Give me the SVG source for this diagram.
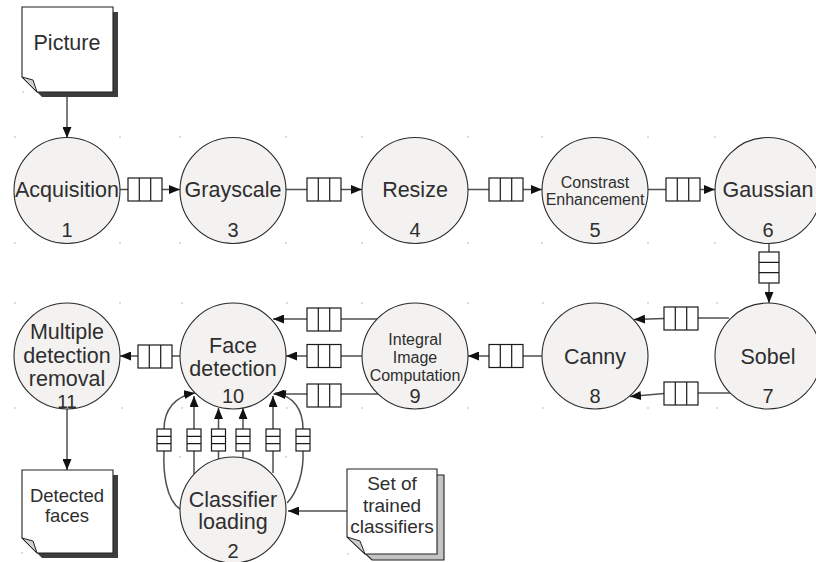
<svg xmlns="http://www.w3.org/2000/svg" width="816" height="562" viewBox="0 0 816 562">
<defs>
<style>
.n{fill:#f3f2f1;stroke:#2a2a2a;stroke-width:1.1}
.t{font-family:"Liberation Sans",Arial,sans-serif;fill:#2e2e2e;text-anchor:middle}
.l{font-size:21.5px}
.num{font-size:20px}
.c{fill:none;stroke:#505050;stroke-width:1.5}
.q{fill:#fff;stroke:#1a1a1a;stroke-width:1.2}
.qd{stroke:#1a1a1a;stroke-width:1.2}
.doc{fill:#fff;stroke:#222;stroke-width:1.1}
.sh{fill:#3d3d3d}
.fold{fill:#cfcfcf;stroke:#222;stroke-width:1}
.d{fill:#a0a0a0}
</style>
<marker id="a" markerUnits="userSpaceOnUse" markerWidth="12" markerHeight="9" refX="11" refY="4.5" orient="auto">
<path d="M0,0 L11,4.5 L0,9 z" fill="#111"/>
</marker>
<g id="qh"><rect class="q" x="0" y="0" width="34" height="23"/><path class="qd" d="M11.3,0 V23 M22.7,0 V23"/></g>
<g id="qv"><rect class="q" x="0" y="0" width="20" height="31"/><path class="qd" d="M0,10.3 H20 M0,20.7 H20"/></g>
<g id="qs"><rect class="q" x="0" y="0" width="14" height="22"/><path class="qd" d="M0,7.3 H14 M0,14.7 H14"/></g>
</defs>
<rect width="816" height="562" fill="#fff"/>

<g id="dots">
<circle class="d" cx="15" cy="137" r="0.7"/><circle class="d" cx="120" cy="137" r="0.7"/><circle class="d" cx="15" cy="243" r="0.7"/><circle class="d" cx="120" cy="243" r="0.7"/>
<circle class="d" cx="180" cy="137" r="0.7"/><circle class="d" cx="286" cy="137" r="0.7"/><circle class="d" cx="180" cy="243" r="0.7"/><circle class="d" cx="286" cy="243" r="0.7"/>
<circle class="d" cx="362" cy="137" r="0.7"/><circle class="d" cx="468" cy="137" r="0.7"/><circle class="d" cx="362" cy="243" r="0.7"/><circle class="d" cx="468" cy="243" r="0.7"/>
<circle class="d" cx="542" cy="137" r="0.7"/><circle class="d" cx="648" cy="137" r="0.7"/><circle class="d" cx="542" cy="243" r="0.7"/><circle class="d" cx="648" cy="243" r="0.7"/>
<circle class="d" cx="715" cy="137" r="0.7"/><circle class="d" cx="715" cy="243" r="0.7"/>
<circle class="d" cx="15" cy="303" r="0.7"/><circle class="d" cx="120" cy="303" r="0.7"/><circle class="d" cx="15" cy="408" r="0.7"/><circle class="d" cx="122" cy="408" r="0.7"/>
<circle class="d" cx="182" cy="303" r="0.7"/><circle class="d" cx="287" cy="303" r="0.7"/><circle class="d" cx="182" cy="408" r="0.7"/><circle class="d" cx="287" cy="408" r="0.7"/>
<circle class="d" cx="362" cy="303" r="0.7"/><circle class="d" cx="468" cy="303" r="0.7"/><circle class="d" cx="362" cy="408" r="0.7"/><circle class="d" cx="468" cy="408" r="0.7"/>
<circle class="d" cx="543" cy="303" r="0.7"/><circle class="d" cx="648" cy="303" r="0.7"/><circle class="d" cx="543" cy="408" r="0.7"/><circle class="d" cx="648" cy="408" r="0.7"/>
<circle class="d" cx="717" cy="303" r="0.7"/><circle class="d" cx="717" cy="408" r="0.7"/>
<circle class="d" cx="180" cy="457" r="0.7"/><circle class="d" cx="286" cy="457" r="0.7"/>
<circle class="d" cx="23" cy="92" r="0.7"/><circle class="d" cx="22" cy="553" r="0.7"/><circle class="d" cx="348" cy="554" r="0.7"/>
</g>

<g id="connectors">
<path class="c" d="M67,92 V138" marker-end="url(#a)"/>
<path class="c" d="M120,189.5 H128 M162,189.5 H180" marker-end="url(#a)"/>
<use href="#qh" x="128" y="178"/>
<path class="c" d="M286,189.5 H307 M341,189.5 H362" marker-end="url(#a)"/>
<use href="#qh" x="307" y="178"/>
<path class="c" d="M468,189.5 H489 M522,189.5 H542" marker-end="url(#a)"/>
<use href="#qh" x="489" y="178"/>
<path class="c" d="M648,189.5 H666 M699,189.5 H715" marker-end="url(#a)"/>
<use href="#qh" x="666" y="178"/>
<path class="c" d="M769,243.5 V252 M769,283 V303" marker-end="url(#a)"/>
<use href="#qv" x="759" y="252"/>
<path class="c" d="M729,318 H698 M664,318.5 L634,319.5" marker-end="url(#a)"/>
<use href="#qh" x="664" y="307"/>
<path class="c" d="M730,393 H698 M664,393.5 L630,396.5" marker-end="url(#a)"/>
<use href="#qh" x="664" y="382"/>
<path class="c" d="M542,356 H522 M489,356 H468" marker-end="url(#a)"/>
<use href="#qh" x="489" y="344.5"/>
<path class="c" d="M377,319 H341 M307,319 H273" marker-end="url(#a)"/>
<use href="#qh" x="307" y="308"/>
<path class="c" d="M362,356 H341 M307,356 H286" marker-end="url(#a)"/>
<use href="#qh" x="307" y="344.5"/>
<path class="c" d="M378,394 H341 M307,394 H273.5" marker-end="url(#a)"/>
<use href="#qh" x="307" y="384"/>
<path class="c" d="M180,356 H172 M138,356 H120" marker-end="url(#a)"/>
<use href="#qh" x="138" y="345"/>
<path class="c" d="M67,408 V470" marker-end="url(#a)"/>
<path class="c" d="M347,511 H288" marker-end="url(#a)"/>
<path class="c" d="M180,509 C166,500 163,472 164,451 M164,429 C164,410 175,396 195,393" marker-end="url(#a)"/>
<use href="#qs" x="157" y="429"/>
<path class="c" d="M194,474 V451 M194,429 V396" marker-end="url(#a)"/>
<use href="#qs" x="187" y="429"/>
<path class="c" d="M218.5,459 V451 M218.5,429 V408" marker-end="url(#a)"/>
<use href="#qs" x="211.5" y="429"/>
<path class="c" d="M243,458 V451 M243,429 V408" marker-end="url(#a)"/>
<use href="#qs" x="236" y="429"/>
<path class="c" d="M273,473 V451 M273,429 V396" marker-end="url(#a)"/>
<use href="#qs" x="266" y="429"/>
<path class="c" d="M287,503 C298,492 304,470 303,451 M303,429 C303,410 294,396 275,393" marker-end="url(#a)"/>
<use href="#qs" x="296" y="429"/>
</g>

<g id="picture">
<path class="sh" d="M27,12 H118 V97 H42 L27,82 Z"/>
<path class="doc" d="M22,7 H113 V92 H37 L22,77 Z"/>
<path class="fold" d="M22,77 L33,80 L37,92 Z"/>
<text class="t l" x="67" y="50">Picture</text>
</g>

<g id="acquisition">
<circle class="n" cx="67" cy="190.5" r="53"/>
<text class="t l" x="67" y="197">Acquisition</text>
<text class="t num" x="67" y="237">1</text>
</g>
<g id="grayscale">
<circle class="n" cx="233" cy="190.5" r="53"/>
<text class="t l" x="233" y="197">Grayscale</text>
<text class="t num" x="233" y="237">3</text>
</g>
<g id="resize">
<circle class="n" cx="415" cy="190.5" r="53"/>
<text class="t l" x="415" y="197">Resize</text>
<text class="t num" x="415" y="237">4</text>
</g>
<g id="contrast">
<circle class="n" cx="595" cy="190.5" r="53"/>
<text class="t" font-size="16" x="595" y="188">Constrast</text>
<text class="t" font-size="16" x="595" y="205">Enhancement</text>
<text class="t num" x="595" y="237">5</text>
</g>
<g id="gaussian">
<circle class="n" cx="768" cy="190.5" r="53"/>
<text class="t l" x="768" y="197">Gaussian</text>
<text class="t num" x="768" y="237">6</text>
</g>
<g id="sobel">
<circle class="n" cx="768" cy="356" r="53"/>
<text class="t l" x="768" y="364">Sobel</text>
<text class="t num" x="768" y="403">7</text>
</g>
<g id="canny">
<circle class="n" cx="595" cy="356" r="53"/>
<text class="t l" x="595" y="364">Canny</text>
<text class="t num" x="595" y="403">8</text>
</g>
<g id="integral">
<circle class="n" cx="415" cy="356" r="53"/>
<text class="t" font-size="16" x="415" y="345">Integral</text>
<text class="t" font-size="16" x="415" y="363">Image</text>
<text class="t" font-size="16" x="415" y="381">Computation</text>
<text class="t num" x="415" y="403">9</text>
</g>
<g id="facedetection">
<circle class="n" cx="233" cy="356" r="53"/>
<text class="t l" x="233" y="353">Face</text>
<text class="t l" x="233" y="376">detection</text>
<text class="t num" x="233" y="403">10</text>
</g>
<g id="multiple">
<circle class="n" cx="67" cy="356" r="53"/>
<text class="t l" x="67" y="339">Multiple</text>
<text class="t l" x="67" y="363">detection</text>
<text class="t l" x="67" y="386">removal</text>
<text class="t" font-size="19" x="67" y="408">11</text>
</g>
<g id="classifier">
<circle class="n" cx="233" cy="510" r="53"/>
<text class="t l" x="233" y="507">Classifier</text>
<text class="t l" x="233" y="529">loading</text>
<text class="t num" x="233" y="558">2</text>
</g>

<g id="detected">
<path class="sh" d="M27,475 H118 V558 H42 L27,543 Z"/>
<path class="doc" d="M22,470 H113 V553 H37 L22,538 Z"/>
<path class="fold" d="M22,538 L33,541 L37,553 Z"/>
<text class="t" font-size="18.5" x="67" y="502">Detected</text>
<text class="t" font-size="18.5" x="67" y="522">faces</text>
</g>

<g id="trained">
<path d="M354,475 H444 V560 H372 L354,543 Z" fill="#c4c4c4" stroke="#222" stroke-width="1.1"/>
<path class="doc" d="M347,469 H437 V554 H365 L347,537 Z"/>
<path class="fold" d="M347,537 L360,541 L365,554 Z"/>
<text class="t" font-size="19" x="392" y="490">Set of</text>
<text class="t" font-size="19" x="392" y="512">trained</text>
<text class="t" font-size="19" x="392" y="533">classifiers</text>
</g>
</svg>
